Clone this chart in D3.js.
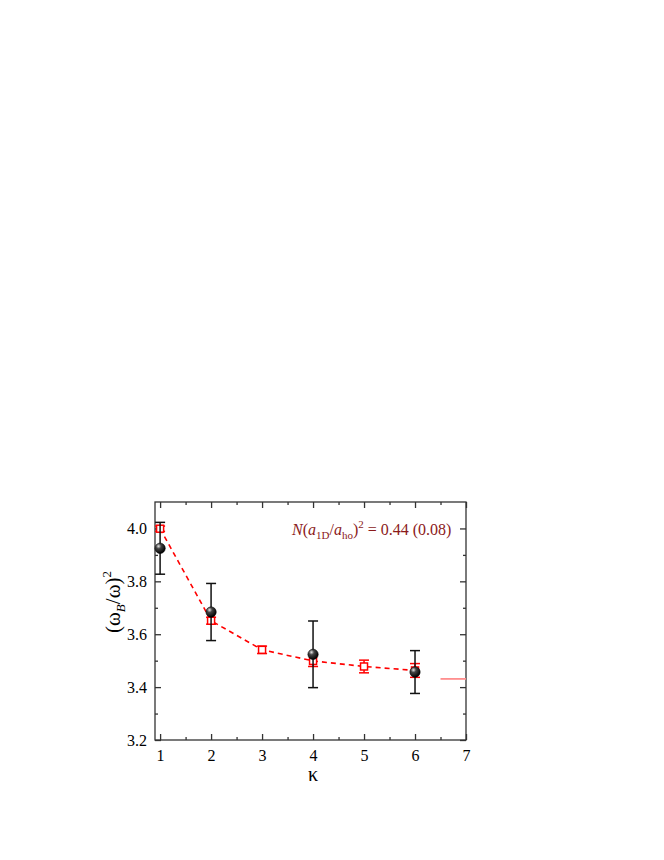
<!DOCTYPE html>
<html><head><meta charset="utf-8">
<script src="https://cdn.jsdelivr.net/npm/d3@7"></script>
<style>body{margin:0;background:#fff}svg{display:block}</style>
</head><body>
<svg id="c" width="664" height="860"></svg>
<script>
const kappaBlack = [1, 2, 4, 6];
const valBlack = [3.925, 3.684, 3.524, 3.457];
const errBlack = [0.098, 0.108, 0.126, 0.081];
const kappaRed = [1, 2, 3, 4, 5, 6];
const valRed = [3.999, 3.651, 3.541, 3.499, 3.478, 3.463];
const errRed = [0.01, 0.013, 0.014, 0.021, 0.024, 0.026];
const asymX = [6.5, 7];
const asymY = 3.431;
const xTicks = [1, 2, 3, 4, 5, 6, 7];
const yTicks = [3.2, 3.4, 3.6, 3.8, 4.0];
const xMinor = [1.5, 2.5, 3.5, 4.5, 5.5, 6.5];
const yMinor = [3.3, 3.5, 3.7, 3.9];

const svg = d3.select("#c");
const L = 155, R = 466, T = 502, B = 740;
const x = d3.scaleLinear().domain([0.9, 7]).range([L, R]);
const y = d3.scaleLinear().domain([3.2, 4.1]).range([B, T]);
const font = "'Liberation Serif','Times New Roman',serif";

const defs = svg.append("defs");
const g = defs.append("radialGradient").attr("id", "ball").attr("cx", "35%").attr("cy", "30%").attr("r", "70%");
g.append("stop").attr("offset", "0%").attr("stop-color", "#e8e8e8");
g.append("stop").attr("offset", "35%").attr("stop-color", "#444");
g.append("stop").attr("offset", "100%").attr("stop-color", "#000");

const frameCol = "#333";
const axB = svg.append("g").attr("transform", `translate(0,${B})`)
  .call(d3.axisBottom(x).tickValues(xTicks).tickSize(-6).tickPadding(10).tickFormat(d3.format("d")));
const axT = svg.append("g").attr("transform", `translate(0,${T})`)
  .call(d3.axisTop(x).tickValues(xTicks).tickSize(-6).tickFormat(""));
const axL = svg.append("g").attr("transform", `translate(${L},0)`)
  .call(d3.axisLeft(y).tickValues(yTicks).tickSize(-6).tickPadding(8).tickFormat(d3.format(".1f")));
const axR = svg.append("g").attr("transform", `translate(${R},0)`)
  .call(d3.axisRight(y).tickValues(yTicks).tickSize(-6).tickFormat(""));
const mB = svg.append("g").attr("transform", `translate(0,${B})`)
  .call(d3.axisBottom(x).tickValues(xMinor).tickSize(-3).tickFormat(""));
const mT = svg.append("g").attr("transform", `translate(0,${T})`)
  .call(d3.axisTop(x).tickValues(xMinor).tickSize(-3).tickFormat(""));
const mL = svg.append("g").attr("transform", `translate(${L},0)`)
  .call(d3.axisLeft(y).tickValues(yMinor).tickSize(-3).tickFormat(""));
const mR = svg.append("g").attr("transform", `translate(${R},0)`)
  .call(d3.axisRight(y).tickValues(yMinor).tickSize(-3).tickFormat(""));
[axB, axT, axL, axR, mB, mT, mL, mR].forEach(a => {
  a.attr("font-family", font);
  a.select(".domain").remove();
  a.selectAll("line").attr("stroke", frameCol).attr("stroke-width", 1.3);
  a.selectAll("text").attr("font-family", font).attr("font-size", 16).attr("fill", "#000");
});
svg.append("rect").attr("x", L).attr("y", T).attr("width", R - L).attr("height", B - T)
  .attr("fill", "none").attr("stroke", frameCol).attr("stroke-width", 1.3);

svg.append("line").attr("x1", x(asymX[0])).attr("x2", x(asymX[1]))
  .attr("y1", y(asymY)).attr("y2", y(asymY)).attr("stroke", "#ff8f8f").attr("stroke-width", 1.8);

const redPts = kappaRed.map((k, i) => [k, valRed[i]]);
svg.append("path").datum(redPts)
  .attr("d", d3.line().x(d => x(d[0])).y(d => y(d[1])))
  .attr("fill", "none").attr("stroke", "#ff0000").attr("stroke-width", 1.6).attr("stroke-dasharray", "5,4");

const cap = 5;
const redG = svg.append("g").attr("stroke", "#ff0000").attr("stroke-width", 1.5).attr("fill", "none");
kappaRed.forEach((k, i) => {
  const cx = x(k), y1 = y(valRed[i] + errRed[i]), y2 = y(valRed[i] - errRed[i]);
  redG.append("line").attr("x1", cx).attr("x2", cx).attr("y1", y1).attr("y2", y2);
  redG.append("line").attr("x1", cx - cap).attr("x2", cx + cap).attr("y1", y1).attr("y2", y1);
  redG.append("line").attr("x1", cx - cap).attr("x2", cx + cap).attr("y1", y2).attr("y2", y2);
  redG.append("rect").attr("x", cx - 3.5).attr("y", y(valRed[i]) - 3.5).attr("width", 7).attr("height", 7)
    .attr("fill", "#fff");
});

const blkG = svg.append("g").attr("stroke", "#111").attr("stroke-width", 1.5);
kappaBlack.forEach((k, i) => {
  const cx = x(k), y1 = y(valBlack[i] + errBlack[i]), y2 = y(valBlack[i] - errBlack[i]);
  blkG.append("line").attr("x1", cx).attr("x2", cx).attr("y1", y1).attr("y2", y2);
  blkG.append("line").attr("x1", cx - cap).attr("x2", cx + cap).attr("y1", y1).attr("y2", y1);
  blkG.append("line").attr("x1", cx - cap).attr("x2", cx + cap).attr("y1", y2).attr("y2", y2);
});
svg.append("g").selectAll("circle").data(kappaBlack).join("circle")
  .attr("cx", d => x(d)).attr("cy", (d, i) => y(valBlack[i])).attr("r", 5.2)
  .attr("fill", "url(#ball)").attr("stroke", "#000").attr("stroke-width", 0.5);

const ann = svg.append("text").attr("x", 292).attr("y", 535).attr("font-family", font)
  .attr("font-size", 16).attr("fill", "#8b1a1a");
ann.append("tspan").attr("font-style", "italic").text("N");
ann.append("tspan").text("(");
ann.append("tspan").attr("font-style", "italic").text("a");
ann.append("tspan").attr("font-size", 11).attr("dy", 4).text("1D");
ann.append("tspan").attr("dy", -4).text("/");
ann.append("tspan").attr("font-style", "italic").text("a");
ann.append("tspan").attr("font-size", 11).attr("dy", 4).text("ho");
ann.append("tspan").attr("dy", -4).text(")");
ann.append("tspan").attr("font-size", 11).attr("dy", -7).text("2");
ann.append("tspan").attr("dy", 7).text(" =  0.44 (0.08)");

svg.append("text").attr("x", x(4)).attr("y", 781).attr("text-anchor", "middle")
  .attr("font-family", font).attr("font-size", 20).text("κ");
const yl = svg.append("text").attr("transform", `translate(120,602) rotate(-90)`)
  .attr("text-anchor", "middle").attr("font-family", font).attr("font-size", 21);
yl.append("tspan").text("(ω");
yl.append("tspan").attr("font-style", "italic").attr("font-size", 13).attr("dy", 5).text("B");
yl.append("tspan").attr("dy", -5).text("/ω)");
yl.append("tspan").attr("font-size", 13).attr("dy", -9).text("2");
</script>
</body></html>
